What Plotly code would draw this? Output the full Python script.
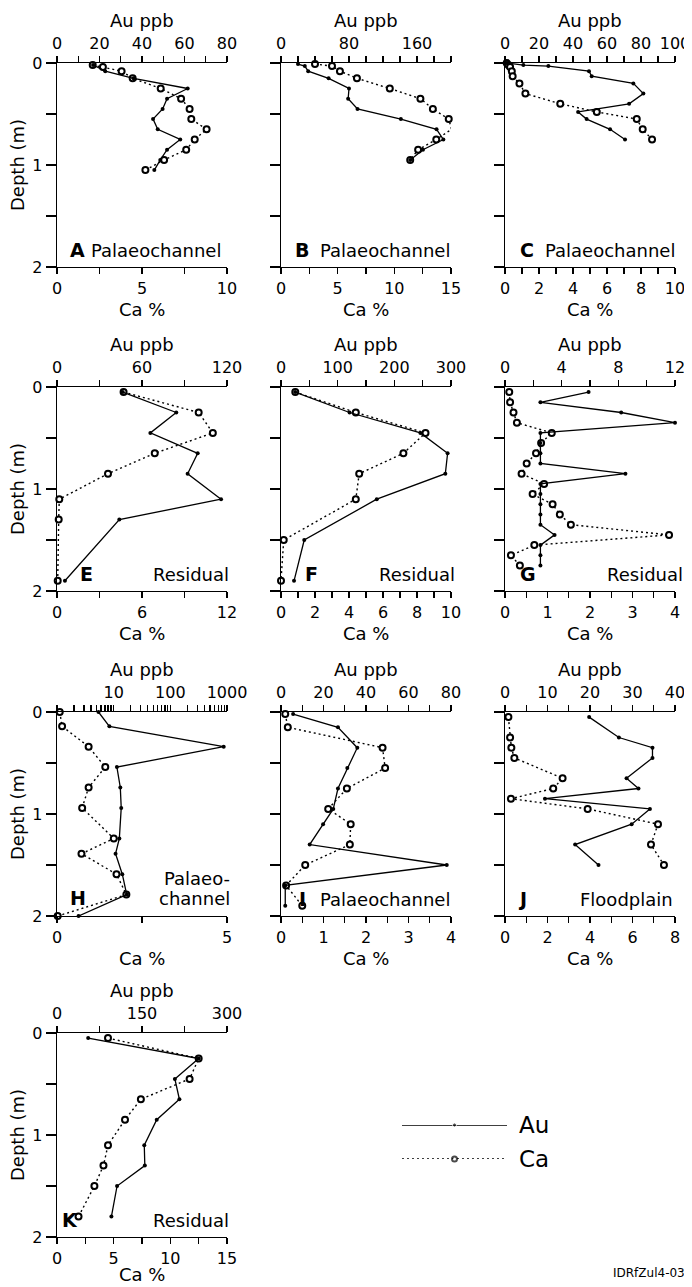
import numpy as np
import plotly.graph_objects as go

# The page body has an 8 px margin, so the figure is sized to fill the rest of the
# 692x1287 window and all positions below are given in window pixels.
OFF = 8
W, H = 692 - OFF, 1287 - OFF
FONT = "DejaVu Sans"

# ---------------- data (depth in m, Au in ppb, Ca in %) ----------------
# A - Palaeochannel
a_au_depth = [0.02, 0.08, 0.15, 0.25, 0.35, 0.45, 0.55, 0.65, 0.75, 0.85, 0.95, 1.05]
a_au = [17, 22.7, 36, 61.5, 51.8, 49.7, 45.2, 47.4, 58.0, 51.8, 48.6, 45.8]
a_ca_depth = [0.02, 0.04, 0.08, 0.15, 0.25, 0.35, 0.45, 0.55, 0.65, 0.75, 0.85, 0.95, 1.05]
a_ca = [2.1, 2.7, 3.8, 4.45, 6.1, 7.3, 7.8, 7.9, 8.8, 8.1, 7.6, 6.3, 5.2]

# B - Palaeochannel
b_depth = [0.01, 0.03, 0.08, 0.15, 0.25, 0.35, 0.45, 0.55, 0.65, 0.75, 0.85, 0.95]
b_au = [20, 28, 32, 56, 80, 79, 90, 141, 183, 191, 167, 152]
b_ca = [3.0, 4.5, 5.2, 6.7, 9.6, 12.3, 13.4, 14.8, 15.05, 13.7, 12.1, 11.4]

# C - Palaeochannel
c_au_depth = [0.0, 0.02, 0.03, 0.08, 0.13, 0.2, 0.3, 0.4, 0.48, 0.55, 0.65, 0.75]
c_au = [1, 10.8, 25.5, 49.4, 51, 75.5, 81.4, 73, 43, 48, 61.8, 70.6]
c_ca_depth = [0.0, 0.02, 0.04, 0.08, 0.13, 0.2, 0.3, 0.4, 0.48, 0.55, 0.65, 0.75]
c_ca = [0.1, 0.2, 0.3, 0.4, 0.45, 0.85, 1.2, 3.25, 5.4, 7.75, 8.1, 8.65]

# E - Residual
e_depth = [0.05, 0.25, 0.45, 0.65, 0.85, 1.1, 1.3, 1.9]
e_au = [46.4, 84.2, 65.9, 99.3, 92.2, 115.8, 44, 5.6]
e_ca = [4.7, 10.0, 11.0, 6.9, 3.6, 0.16, 0.12, 0.05]

# F - Residual
f_depth = [0.05, 0.25, 0.45, 0.65, 0.85, 1.1, 1.5, 1.9]
f_au = [25, 121, 246, 294, 290, 169, 41, 23]
f_ca = [0.84, 4.4, 8.5, 7.2, 4.6, 4.4, 0.16, 0.0]

# G - Residual
g_depth = [0.05, 0.15, 0.25, 0.35, 0.45, 0.55, 0.65, 0.75, 0.85,
           0.95, 1.05, 1.15, 1.25, 1.35, 1.45, 1.55, 1.65, 1.75]
g_au = [5.9, 2.5, 8.2, 12.0, 2.5, 2.5, 2.5, 2.5, 8.5,
        2.5, 2.5, 2.5, 2.5, 2.5, 3.5, 2.5, 2.5, 2.5]
g_ca = [0.1, 0.12, 0.2, 0.28, 1.1, 0.85, 0.73, 0.51, 0.39,
        0.92, 0.65, 1.12, 1.29, 1.55, 3.86, 0.69, 0.14, 0.35]

# H - Palaeochannel (Au on log scale)
h_depth = [0.0, 0.14, 0.34, 0.54, 0.74, 0.94, 1.24, 1.39, 1.59, 1.79, 2.0]
h_au = [5.4, 8.4, 875, 11.4, 13.1, 13.6, 12.6, 10.8, 14.2, 17, 2.4]
h_ca = [0.08, 0.15, 0.93, 1.42, 0.93, 0.74, 1.67, 0.72, 1.75, 2.04, 0.02]

# I - Palaeochannel
i_depth = [0.02, 0.15, 0.35, 0.55, 0.75, 0.95, 1.1, 1.3, 1.5, 1.7, 1.9]
i_au = [5.7, 26.8, 35.9, 31.2, 26.8, 24.6, 19.8, 13.5, 78, 2, 2]
i_ca = [0.1, 0.16, 2.39, 2.45, 1.55, 1.11, 1.64, 1.62, 0.57, 0.12, 0.5]

# J - Floodplain
j_depth = [0.05, 0.25, 0.35, 0.45, 0.65, 0.75, 0.85, 0.95, 1.1, 1.3, 1.5]
j_au = [19.8, 26.8, 34.7, 34.7, 28.6, 31.4, 9.4, 34.1, 29.8, 16.5, 22]
j_ca = [0.16, 0.24, 0.3, 0.44, 2.71, 2.27, 0.28, 3.89, 7.2, 6.87, 7.48]

# K - Residual
k_depth = [0.05, 0.25, 0.45, 0.65, 0.85, 1.1, 1.3, 1.5, 1.8]
k_au = [55, 250, 208, 216, 176, 154, 155, 106, 96]
k_ca = [4.5, 12.5, 11.7, 7.4, 6.0, 4.5, 4.1, 3.3, 1.9]

letters = ["A", "B", "C", "E", "F", "G", "H", "I", "J", "K"]
kinds = ["Palaeochannel", "Palaeochannel", "Palaeochannel", "Residual", "Residual",
         "Residual", "Palaeo-<br>channel", "Palaeochannel", "Floodplain", "Residual"]
au_max = [80, 200, 100, 120, 300, 12, 1000, 80, 40, 300]
au_step = [10, 20, 10, 30, 50, 2, None, 10, 5, 75]
au_label_step = [20, 80, 20, 60, 100, 4, None, 20, 10, 150]
ca_max = [10, 15, 10, 12, 10, 4, 5, 4, 8, 15]
ca_step = [2.5, 2.5, 1, 3, 1, 0.5, 2.5, 0.5, 1, 2.5]
ca_label_step = [5, 5, 2, 6, 2, 1, 5, 1, 2, 5]
depth_ticks = [0, 0.5, 1, 1.5, 2]
depth_labels = ["0", "", "1", "", "2"]
legend_names = ["Au", "Ca"]

series = [
    (a_au_depth, a_au, a_ca_depth, a_ca),
    (b_depth, b_au, b_depth, b_ca),
    (c_au_depth, c_au, c_ca_depth, c_ca),
    (e_depth, e_au, e_depth, e_ca),
    (f_depth, f_au, f_depth, f_ca),
    (g_depth, g_au, g_depth, g_ca),
    (h_depth, h_au, h_depth, h_ca),
    (i_depth, i_au, i_depth, i_ca),
    (j_depth, j_au, j_depth, j_ca),
    (k_depth, k_au, k_depth, k_ca),
]

# ---------------- layout geometry (window pixels) ----------------
COL_X = [57, 281, 505]
ROW_Y = [63, 387, 712, 1033]
PW, PH = 170, 204
pos = [(0, 0), (1, 0), (2, 0), (0, 1), (1, 1), (2, 1), (0, 2), (1, 2), (2, 2), (0, 3)]
letter_dx = [11, 12, 13, 21, 22, 13, 11, 16, 11, 3]
kind_right = [166, 171, 172, 174, 176, 180, 175, 171, 170, 174]
ca_title_dy = [42, 42, 42, 42]
ca_title_dy[3] = 37


def fx(x):
    return (x - OFF) / W


def fy(y):
    return 1 - (y - OFF) / H


def fmt(v):
    return str(int(round(v))) if abs(v - round(v)) < 1e-9 else str(v)


def lin_ticks(vmax, step, lstep):
    vals = np.round(np.arange(0, vmax + step / 2, step), 6)
    labs = [fmt(v) if abs(v / lstep - round(v / lstep)) < 1e-6 else "" for v in vals]
    return [float(v) for v in vals], labs


def log_ticks():
    vals, labs = [], []
    for dec in [1, 10, 100]:
        for m in range(1, 10):
            vals.append(m * dec)
            labs.append(fmt(m * dec) if (m == 1 and dec > 1) else "")
    vals.append(1000)
    labs.append("1000")
    return vals, labs


fig = go.Figure()
layout = dict(
    width=W, height=H, autosize=False, margin=dict(l=0, r=0, t=0, b=0, pad=0),
    paper_bgcolor="white", plot_bgcolor="rgba(0,0,0,0)",
    showlegend=False, font=dict(family=FONT, size=16, color="black"),
)
annotations = []

AXW = 1.4
tickfont = dict(family=FONT, size=16, color="black")


def ann(text, x, y, size, xanchor="center", yanchor="middle", bold=False, angle=0):
    annotations.append(dict(
        text=f"<b>{text}</b>" if bold else text, x=fx(x), y=fy(y), xref="paper", yref="paper",
        showarrow=False, xanchor=xanchor, yanchor=yanchor, textangle=angle,
        font=dict(family=FONT, size=size, color="black"), align="right"))


for k in range(10):
    col, row = pos[k]
    x0 = COL_X[col]
    y0 = ROW_Y[row]
    xd = [fx(x0), fx(x0 + PW)]
    yd = [fy(y0 + PH), fy(y0)]
    ca_ax = f"xaxis{2 * k + 1}"
    au_ax = f"xaxis{2 * k + 2}"
    y_ax = f"yaxis{k + 1}"
    ca_ref = f"x{2 * k + 1}"
    au_ref = f"x{2 * k + 2}"
    y_ref = f"y{k + 1}"

    cv, cl = lin_ticks(ca_max[k], ca_step[k], ca_label_step[k])
    layout[ca_ax] = dict(
        domain=xd, anchor=y_ref, side="bottom", range=[0, ca_max[k]], autorange=False,
        tickmode="array", tickvals=cv, ticktext=cl, ticks="outside", ticklen=6,
        tickwidth=AXW, tickcolor="black", showline=True, linecolor="black", linewidth=AXW,
        showgrid=False, zeroline=False, tickfont=tickfont, fixedrange=True, automargin=False,
    )
    if au_step[k] is None:
        av, al = log_ticks()
        layout[au_ax] = dict(type="log", range=[0, 3], autorange=False)
    else:
        av, al = lin_ticks(au_max[k], au_step[k], au_label_step[k])
        layout[au_ax] = dict(range=[0, au_max[k]], autorange=False)
    layout[au_ax].update(
        anchor=y_ref, overlaying=ca_ref, side="top",
        tickmode="array", tickvals=av, ticktext=al, ticks="outside", ticklen=6,
        tickwidth=AXW, tickcolor="black", showline=True, linecolor="black", linewidth=AXW,
        showgrid=False, zeroline=False, tickfont=tickfont, fixedrange=True, automargin=False,
    )
    layout[y_ax] = dict(
        domain=yd, anchor=ca_ref, range=[2, 0], autorange=False,
        tickmode="array", tickvals=depth_ticks, ticktext=depth_labels,
        showticklabels=(col == 0), ticks="outside", ticklen=10, tickwidth=AXW,
        tickcolor="black", showline=True, linecolor="black", linewidth=AXW,
        showgrid=False, zeroline=False, tickfont=tickfont, fixedrange=True, automargin=False,
    )

    au_d, au_v, ca_d, ca_v = series[k]
    fig.add_trace(go.Scatter(
        x=au_v, y=au_d, xaxis=au_ref, yaxis=y_ref, mode="lines+markers", name="Au",
        line=dict(color="black", width=1.3), marker=dict(size=4, color="black"),
        cliponaxis=False, hoverinfo="skip"))
    fig.add_trace(go.Scatter(
        x=ca_v, y=ca_d, xaxis=ca_ref, yaxis=y_ref, mode="lines+markers", name="Ca",
        line=dict(color="black", width=1.4, dash="2px,3px"),
        marker=dict(size=6, color="white", symbol="circle", line=dict(color="black", width=2)),
        cliponaxis=False, hoverinfo="skip"))

    cx = x0 + PW / 2
    ann("Au ppb", cx, y0 - 43, 18)
    ann("Ca %", cx, y0 + PH + ca_title_dy[row], 18)
    if col == 0:
        ann("Depth (m)", 17, y0 + PH / 2, 18, angle=-90)
    if k == 6:
        ann(letters[k], x0 + letter_dx[k], y0 + PH - 18, 19, xanchor="left", bold=True)
        ann("Palaeo-", x0 + kind_right[k], y0 + PH - 38, 18, xanchor="right")
        ann("channel", x0 + kind_right[k], y0 + PH - 18, 18, xanchor="right")
    else:
        ann(letters[k], x0 + letter_dx[k], y0 + PH - 17, 19, xanchor="left", bold=True)
        ann(kinds[k], x0 + kind_right[k], y0 + PH - 17, 18, xanchor="right")

# ---------------- legend sample (drawn on a hidden axis pair) ----------------
layout["xaxis21"] = dict(domain=[fx(402), fx(507)], anchor="y11", range=[0, 1],
                         visible=False, fixedrange=True, automargin=False)
layout["yaxis11"] = dict(domain=[fy(1159), fy(1125)], anchor="x21", range=[0, 1],
                         visible=False, fixedrange=True, automargin=False)
fig.add_trace(go.Scatter(
    x=[0, 0.5, 1], y=[1, 1, 1], xaxis="x21", yaxis="y11", mode="lines+markers",
    line=dict(color="black", width=1.3), marker=dict(size=[0, 4, 0], color="black"),
    cliponaxis=False, hoverinfo="skip"))
fig.add_trace(go.Scatter(
    x=[0, 0.5, 1], y=[0, 0, 0], xaxis="x21", yaxis="y11", mode="lines+markers",
    line=dict(color="black", width=1.4, dash="2px,3px"),
    marker=dict(size=[0, 5, 0], color="white", line=dict(color="black", width=[0, 2, 0])),
    cliponaxis=False, hoverinfo="skip"))
ann(legend_names[0], 517, 1125, 23, xanchor="left")
ann(legend_names[1], 517, 1159, 23, xanchor="left")
ann("IDRfZul4-03", 687, 1273, 12, xanchor="right")

layout["annotations"] = annotations
fig.update_layout(**layout)
fig.write_html("out.html", config={"displayModeBar": False, "staticPlot": True})
